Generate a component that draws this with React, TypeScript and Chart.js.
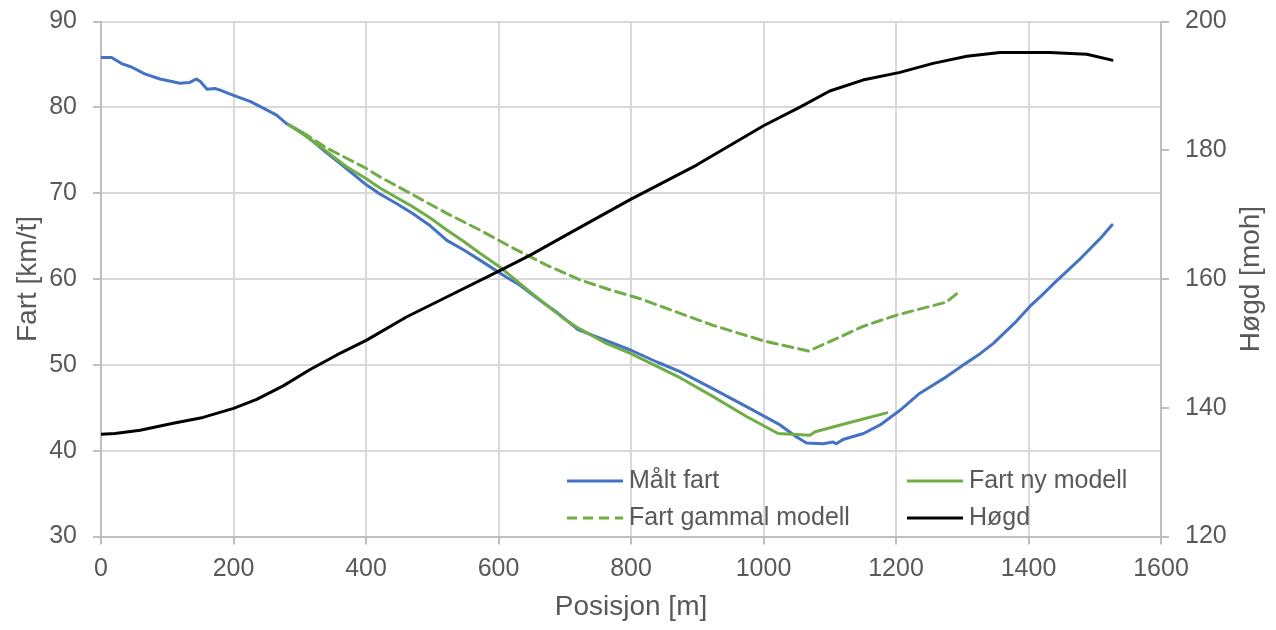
import React, { useEffect, useRef } from "react";
import { Chart, registerables } from "chart.js";

Chart.register(...registerables);

// ---------- data ----------
const xTickValues = [0, 200, 400, 600, 800, 1000, 1200, 1400, 1600];
const leftTickValues = [30, 40, 50, 60, 70, 80, 90];
const rightTickValues = [120, 140, 160, 180, 200];

const maltX = [0, 16, 31, 46, 66, 89, 119, 134, 144, 150, 160, 172, 180, 200, 225, 245, 265, 280, 305, 336, 370, 400, 421, 446, 471, 497, 522, 547, 572, 600, 612, 632, 663, 690, 720, 760, 800, 840, 874, 924, 975, 1025, 1050, 1065, 1090, 1105, 1110, 1120, 1151, 1176, 1206, 1236, 1276, 1302, 1327, 1347, 1382, 1402, 1420, 1440, 1480, 1508, 1526];
const maltV = [85.8, 85.8, 85.1, 84.7, 83.9, 83.3, 82.8, 82.9, 83.3, 83.0, 82.1, 82.2, 82.0, 81.4, 80.7, 79.9, 79.1, 78.1, 77.0, 75.0, 72.9, 71.0, 69.9, 68.8, 67.6, 66.2, 64.5, 63.4, 62.2, 60.8, 60.2, 59.3, 57.5, 56.0, 54.1, 52.9, 51.7, 50.3, 49.2, 47.2, 45.1, 43.0, 41.6, 40.9, 40.8, 41.0, 40.8, 41.3, 42.0, 43.0, 44.7, 46.7, 48.6, 50.0, 51.3, 52.5, 55.1, 56.8, 58.1, 59.6, 62.5, 64.7, 66.3];

const nyX = [283, 310, 340, 370, 400, 421, 446, 471, 497, 522, 547, 572, 602, 632, 667, 700, 720, 760, 800, 840, 874, 924, 975, 1022, 1070, 1078, 1126, 1186];
const nyV = [78.0, 76.6, 74.9, 73.1, 71.7, 70.6, 69.5, 68.4, 67.1, 65.7, 64.4, 63.0, 61.4, 59.5, 57.3, 55.3, 54.3, 52.6, 51.3, 49.8, 48.5, 46.3, 43.95, 42.0, 41.8, 42.2, 43.2, 44.4];

const gammalX = [283, 310, 340, 370, 400, 421, 471, 522, 572, 622, 673, 723, 770, 814, 874, 924, 1000, 1068, 1100, 1151, 1201, 1276, 1292];
const gammalV = [78.0, 76.8, 75.3, 74.1, 72.9, 71.9, 69.8, 67.65, 65.7, 63.6, 61.6, 59.9, 58.7, 57.7, 56.0, 54.6, 52.8, 51.6, 52.7, 54.5, 55.8, 57.3, 58.3];

const hogdX = [0, 21, 59, 109, 154, 200, 235, 275, 315, 356, 401, 461, 512, 602, 648, 700, 798, 899, 1000, 1055, 1100, 1150, 1206, 1256, 1307, 1357, 1402, 1432, 1488, 1526];
const hogdV = [135.9, 136.0, 136.5, 137.6, 138.5, 139.9, 141.3, 143.4, 145.9, 148.2, 150.5, 154.1, 156.7, 161.3, 163.7, 166.7, 172.3, 177.7, 183.8, 186.7, 189.2, 190.9, 192.1, 193.5, 194.6, 195.2, 195.2, 195.2, 194.9, 194.0];

const seriesLabels = ["Målt fart", "Fart ny modell", "Fart gammal modell", "Høgd"];
const xTitle = "Posisjon [m]";
const yTitle = "Fart [km/t]";
const y1Title = "Høgd [moh]";

// ---------- style ----------
const FONT = "'Liberation Sans', Arial, sans-serif";
const TEXT = "#595959";
const GRID = "#d9d9d9";
const AXIS = "#bfbfbf";
const BLUE = "#4472C4";
const GREEN = "#70AD47";
const BLACK = "#000000";

const pts = (xs: number[], ys: number[]) => xs.map((x, i) => ({ x, y: ys[i] }));

export default function App() {
  const ref = useRef<HTMLCanvasElement>(null);

  useEffect(() => {
    document.body.style.margin = "0";
    const canvas = ref.current;
    if (!canvas) return;

    const overlay = {
      id: "overlay",
      afterDraw(chart: any) {
        const { ctx, chartArea } = chart;
        const midY = (chartArea.top + chartArea.bottom) / 2;
        const midX = (chartArea.left + chartArea.right) / 2;
        ctx.save();
        ctx.fillStyle = TEXT;
        ctx.textAlign = "center";
        ctx.textBaseline = "middle";
        ctx.font = `28px ${FONT}`;
        ctx.fillText(xTitle, midX, 607);
        ctx.save();
        ctx.translate(28, midY);
        ctx.rotate(-Math.PI / 2);
        ctx.fillText(yTitle, 0, 0);
        ctx.restore();
        ctx.save();
        ctx.translate(1251, midY);
        ctx.rotate(-Math.PI / 2);
        ctx.fillText(y1Title, 0, 0);
        ctx.restore();

        // legend
        const cols = [567, 907];
        const rows = [481, 518];
        const lineLen = 56;
        ctx.font = `25px ${FONT}`;
        ctx.textAlign = "left";
        chart.data.datasets.forEach((ds: any) => {
          const idx = seriesLabels.indexOf(ds.label);
          const cx = cols[idx % 2];
          const cy = rows[Math.floor(idx / 2)];
          ctx.save();
          ctx.strokeStyle = ds.borderColor;
          ctx.lineWidth = 3;
          ctx.setLineDash(ds.borderDash || []);
          ctx.beginPath();
          ctx.moveTo(cx, cy);
          ctx.lineTo(cx + lineLen, cy);
          ctx.stroke();
          ctx.restore();
          ctx.fillStyle = TEXT;
          ctx.fillText(ds.label, cx + lineLen + 6, cy);
        });
        ctx.restore();
      },
    };

    const tickFont = { family: FONT, size: 25 };
    const plain = (v: any) => String(v);

    const chart = new Chart(canvas, {
      type: "line",
      data: {
        datasets: [
          { label: seriesLabels[0], data: pts(maltX, maltV), borderColor: BLUE, borderWidth: 3, yAxisID: "y", order: 4 },
          { label: seriesLabels[1], data: pts(nyX, nyV), borderColor: GREEN, borderWidth: 3, yAxisID: "y", order: 3 },
          { label: seriesLabels[2], data: pts(gammalX, gammalV), borderColor: GREEN, borderWidth: 3, borderDash: [10, 6], yAxisID: "y", order: 2 },
          { label: seriesLabels[3], data: pts(hogdX, hogdV), borderColor: BLACK, borderWidth: 3, yAxisID: "y1", order: 1 },
        ] as any,
      },
      options: {
        animation: false,
        responsive: false,
        maintainAspectRatio: false,
        layout: { padding: { top: 21.5, left: 0, right: 0, bottom: 0 } },
        elements: { point: { radius: 0, hoverRadius: 0 }, line: { tension: 0, borderCapStyle: "round", borderJoinStyle: "round" } },
        plugins: { legend: { display: false }, tooltip: { enabled: false } },
        scales: {
          x: {
            type: "linear",
            min: 0,
            max: 1600,
            afterBuildTicks: (s: any) => { s.ticks = xTickValues.map((v) => ({ value: v })); },
            ticks: { color: TEXT, font: tickFont, padding: 10, maxRotation: 0, autoSkip: false, callback: plain },
            grid: { color: GRID, lineWidth: 2, tickColor: AXIS, tickLength: 8 },
            border: { color: AXIS, width: 2 },
            afterFit: (s: any) => { s.height = 93.5; s.paddingLeft = 0; s.paddingRight = 0; },
          },
          y: {
            type: "linear",
            position: "left",
            min: 30,
            max: 90,
            afterBuildTicks: (s: any) => { s.ticks = leftTickValues.map((v) => ({ value: v })); },
            ticks: { color: TEXT, font: tickFont, padding: 16, callback: plain },
            grid: { color: GRID, lineWidth: 2, tickColor: AXIS, tickLength: 8 },
            border: { color: AXIS, width: 2 },
            afterFit: (s: any) => { s.width = 101; s.paddingTop = 0; s.paddingBottom = 0; },
          },
          y1: {
            type: "linear",
            position: "right",
            min: 120,
            max: 200,
            afterBuildTicks: (s: any) => { s.ticks = rightTickValues.map((v) => ({ value: v })); },
            ticks: { color: TEXT, font: tickFont, padding: 16, callback: plain },
            grid: { drawOnChartArea: false, color: AXIS, lineWidth: 2, tickLength: 8 },
            border: { color: AXIS, width: 2 },
            afterFit: (s: any) => { s.width = 115; s.paddingTop = 0; s.paddingBottom = 0; },
          },
        },
      } as any,
      plugins: [overlay],
    });

    return () => chart.destroy();
  }, []);

  return (
    <div style={{ width: 1276, height: 630, background: "#fff" }}>
      <canvas ref={ref} width={1276} height={630} style={{ display: "block", width: 1276, height: 630 }} />
    </div>
  );
}
